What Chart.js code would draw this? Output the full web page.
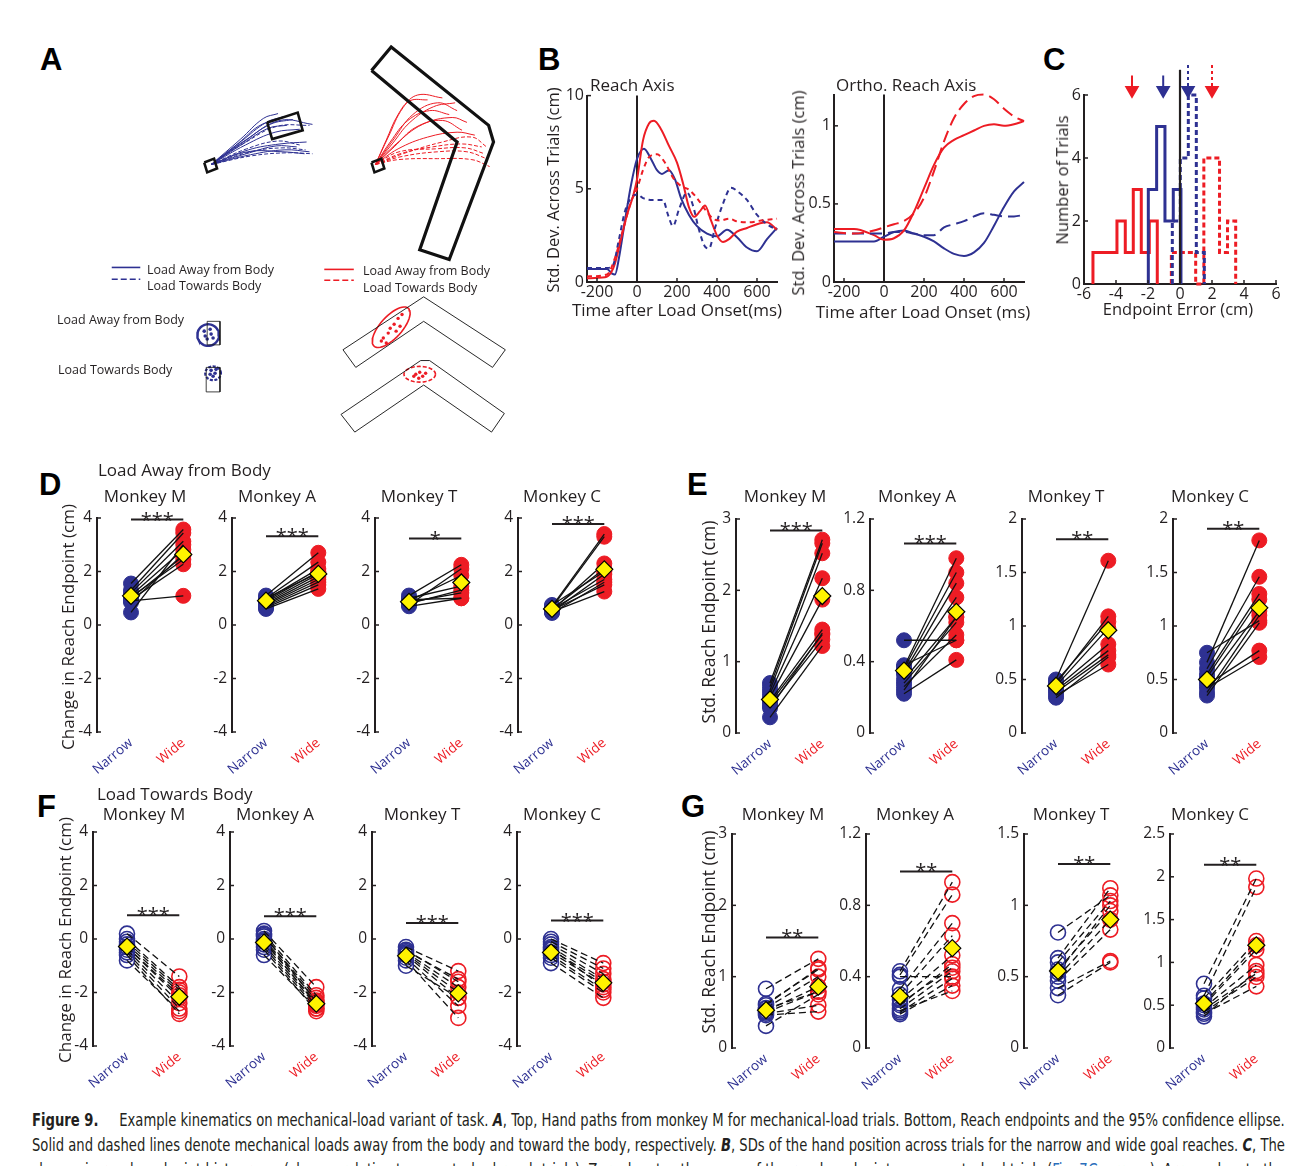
<!DOCTYPE html>
<html>
<head>
<meta charset="utf-8">
<script src="https://cdn.jsdelivr.net/npm/chart.js@4.4.1/dist/chart.umd.min.js"></script>
<style>
  html, body { margin: 0; padding: 0; background: #fff; }
  body { width: 1309px; height: 1166px; overflow: hidden; position: relative;
         font-family: 'Open Sans', 'Noto Sans', sans-serif; color: #231f20; }
  canvas { position: absolute; }
  .t { position: absolute; white-space: nowrap; line-height: 1.2; }
  .letter { position: absolute; font-family: 'Liberation Sans', Arial, sans-serif; font-weight: bold;
            font-size: 31px; line-height: 1; color: #000; }
  .cap { position: absolute; left: 32px; white-space: nowrap; font-size: 18px; line-height: 24px;
         font-family: 'Liberation Sans Narrow', 'DejaVu Sans Condensed', sans-serif; font-stretch: condensed;
         transform-origin: 0 0; color: #231f20; }
  .cap a { color: #2a6ebb; text-decoration: none; }
</style>
</head>
<body>

<div class="letter" style="left:40px;top:44px">A</div>
<div class="letter" style="left:538px;top:44px">B</div>
<div class="letter" style="left:1043px;top:44px">C</div>
<div class="letter" style="left:39px;top:469px">D</div>
<div class="letter" style="left:687px;top:469px">E</div>
<div class="letter" style="left:37px;top:791px">F</div>
<div class="letter" style="left:681px;top:791px">G</div>

<div class="cap" style="top:1108px"><b>Figure 9.</b>&nbsp;&nbsp;&nbsp;&nbsp; Example kinematics on mechanical-load variant of task. <b><i>A</i></b>, Top, Hand paths from monkey M for mechanical-load trials. Bottom, Reach endpoints and the 95% confidence ellipse.</div>
<div class="cap" style="top:1133px">Solid and dashed lines denote mechanical loads away from the body and toward the body, respectively. <b><i>B</i></b>, SDs of the hand position across trials for the narrow and wide goal reaches. <b><i>C</i></b>, The</div>
<div class="cap" style="top:1158px">change in reach endpoint histograms (change relative to unperturbed reach trials). Zero denotes the mean of the reach endpoints on unperturbed trials (<a>Fig. 7<i>C</i></a>, arrows). Arrows denote the</div>

<script>
// ---------------- data ----------------

// panel B, reach axis (ms, cm)
const reachBlueSolidT = [-250,-150,-125,-110,-90,-60,-30,0,35,70,100,125,160,190,220,260,300,350,400,450,500,550,600,650,700];
const reachBlueSolidV = [0.7,0.7,0.45,0.4,1.3,3.3,5.2,6.6,7.15,6.6,6.0,5.8,6.0,5.5,4.5,3.6,3.0,2.6,2.45,2.8,2.4,1.85,1.65,2.3,2.9];
const reachRedSolidT = [-250,-160,-130,-110,-80,-50,-20,0,30,60,85,120,160,200,230,260,285,315,340,370,400,430,460,500,550,600,650,700];
const reachRedSolidV = [0.2,0.25,0.5,1.0,2.3,3.6,4.6,5.5,7.6,8.5,8.65,8.2,7.3,6.4,5.3,4.0,3.5,3.8,4.1,3.3,2.5,2.15,2.3,2.7,2.9,3.1,3.2,2.8];
const reachBlueDashT = [-250,-150,-120,-90,-60,-30,0,30,80,130,155,180,210,250,280,310,340,360,390,430,470,510,550,600,650,700];
const reachBlueDashV = [0.75,0.75,0.9,2.3,3.8,4.5,4.7,4.5,4.4,4.4,3.6,3.0,3.9,4.8,4.1,2.8,1.9,1.8,2.9,4.2,5.05,4.8,4.4,3.6,3.1,2.8];
const reachRedDashT = [-250,-150,-110,-70,-30,0,30,60,100,140,180,220,260,300,340,380,420,460,500,560,620,700];
const reachRedDashV = [0.3,0.4,1.3,2.8,4.3,5.0,6.0,6.7,6.85,6.4,5.6,5.15,4.95,4.5,3.9,3.4,3.3,3.4,3.25,3.2,3.3,3.4];

// panel B, ortho reach axis
const orthoT = [-250,-150,-50,0,50,100,150,200,250,300,350,400,450,500,550,600,650,700];
const orthoRedSolid = [0.34,0.34,0.3,0.27,0.28,0.33,0.45,0.6,0.75,0.86,0.91,0.94,0.97,1.0,1.01,1.0,1.01,1.03];
const orthoRedDash  = [0.32,0.31,0.33,0.35,0.37,0.39,0.44,0.54,0.71,0.9,1.05,1.14,1.19,1.2,1.17,1.11,1.06,1.03];
const orthoBlueSolid = [0.26,0.26,0.26,0.29,0.32,0.33,0.31,0.29,0.26,0.215,0.18,0.167,0.19,0.25,0.36,0.48,0.58,0.64];
const orthoBlueDash  = [0.31,0.31,0.31,0.31,0.32,0.32,0.31,0.3,0.3,0.35,0.37,0.39,0.42,0.44,0.43,0.42,0.42,0.43];
const bTimeTicks = [-200, 0, 200, 400, 600];
const reachTicks = [0, 5, 10];
const orthoTicks = [0, 0.5, 1];

// panel C, endpoint error histograms (bin edges in cm, counts)
const histRedSolidEdges = [-5.44,-4.94,-4.44,-3.94,-3.42,-2.92,-2.42,-1.92,-1.42];
const histRedSolidCounts = [1,1,1,2,1,3,1,2];
const histBlueSolidEdges = [-1.98,-1.46,-0.94,-0.42,0.06];
const histBlueSolidCounts = [3,5,2,3];
const histBlueDashEdges = [-0.48,0.02,0.52,1.02,1.52];
const histBlueDashCounts = [2,4,6,1];
const histRedDashEdges = [-0.54,-0.04,0.47,0.98,1.49,2.0,2.47,2.97,3.48];
const histRedDashCounts = [1,1,1,0,4,4,1,2];
const arrowX = [-3, -1.05, 0.5, 2];
const cErrTicks = [-6,-4,-2,0,2,4,6];
const cCountTicks = [0,2,4,6];

// panels D-G
const goalLabels = ['Narrow', 'Wide'];
const monkeys = ['Monkey M', 'Monkey A', 'Monkey T', 'Monkey C'];

// D: load away, change in reach endpoint (cm)
const dM_narrow = [1.55,1.3,1.2,1.1,1.0,1.05,0.95,0.85,0.9,0.47];
const dM_wide   = [3.57,3.44,3.13,2.82,2.58,2.45,2.27,2.65,1.09,3.0];
const dA_narrow = [1.1,1.0,0.95,0.9,0.85,0.8,0.75,0.7,0.65,0.6,1.0];
const dA_wide   = [2.7,2.35,2.1,2.0,1.9,1.8,1.7,1.6,1.5,1.35,1.95];
const dT_narrow = [1.1,0.75,0.9,1.0,0.8,0.95,0.7,0.85];
const dT_wide   = [2.25,2.1,1.85,1.45,1.3,1.0,1.0,1.2];
const dC_narrow = [0.7,0.65,0.55,0.6,0.5,0.6,0.45,0.55,0.5,0.75];
const dC_wide   = [3.4,3.3,2.3,2.1,1.9,1.7,1.6,1.5,1.25,2.0];
const dMeans = [[1.09,2.64],[0.91,1.91],[0.87,1.59],[0.6,2.08]];
const dStars = ['***','***','*','***'];
const dSigY = [3.94,3.32,3.23,3.78];
const dTicks = [-4,-2,0,2,4];

// E: load away, std of reach endpoint (cm)
const eM_narrow = [0.7,0.65,0.6,0.55,0.5,0.45,0.42,0.38,0.35,0.22];
const eM_wide   = [2.71,2.66,2.52,2.17,1.87,1.45,1.38,1.31,1.4,1.22];
const eA_narrow = [0.52,0.37,0.36,0.34,0.33,0.3,0.28,0.26,0.24,0.22,0.38];
const eA_wide   = [0.52,0.98,0.9,0.84,0.76,0.65,0.62,0.55,0.65,0.41,0.52];
const eT_narrow = [0.5,0.46,0.48,0.44,0.42,0.4,0.38,0.35,0.33];
const eT_wide   = [1.61,1.09,1.04,0.98,0.83,0.77,0.73,0.64,0.71];
const eC_narrow = [0.75,0.66,0.6,0.55,0.52,0.48,0.45,0.42,0.38,0.35];
const eC_wide   = [1.05,1.8,1.46,1.3,1.25,1.14,0.77,0.71,1.1,1.03];
const eMeans = [[0.47,1.92],[0.35,0.68],[0.44,0.96],[0.5,1.17]];
const eStars = ['***','***','**','**'];
const eSigY = [2.84,1.063,1.81,1.91];
const eTicks = [[0,1,2,3],[0,0.4,0.8,1.2],[0,0.5,1,1.5,2],[0,0.5,1,1.5,2]];

// F: load towards, change in reach endpoint (cm)
const fM_narrow = [0.2,0.0,-0.1,-0.2,-0.3,-0.4,-0.5,-0.6,-0.8,-0.3];
const fM_wide   = [-1.4,-1.8,-1.9,-2.0,-2.2,-2.4,-2.6,-2.8,-2.7,-2.1];
const fA_narrow = [0.3,0.2,0.1,0.0,-0.1,-0.2,-0.3,-0.4,-0.6,-0.05,0.15];
const fA_wide   = [-1.8,-2.1,-2.2,-2.3,-2.4,-2.5,-2.6,-2.7,-2.6,-2.45,-2.35];
const fT_narrow = [-0.3,-0.4,-0.5,-0.55,-0.6,-0.7,-0.8,-1.0,-0.45];
const fT_wide   = [-1.2,-1.6,-1.8,-2.0,-2.2,-2.5,-2.95,-2.2,-1.5];
const fC_narrow = [0.0,-0.1,-0.2,-0.3,-0.4,-0.5,-0.6,-0.7,-0.9,-0.35];
const fC_wide   = [-0.9,-1.1,-1.3,-1.5,-1.6,-1.7,-1.9,-2.0,-2.2,-1.8];
const fMeans = [[-0.28,-2.16],[-0.13,-2.42],[-0.63,-2.03],[-0.5,-1.64]];
const fStars = ['***','***','***','***'];
const fSigY = [0.89,0.85,0.6,0.69];
const fTicks = [-4,-2,0,2,4];

// G: load towards, std of reach endpoint (cm)
const gM_narrow = [0.83,0.6,0.56,0.52,0.5,0.48,0.46,0.31,0.55,0.62];
const gM_wide   = [1.25,1.12,1.0,0.86,0.79,0.6,0.51,0.75,0.79,1.1];
const gA_narrow = [0.43,0.41,0.4,0.33,0.3,0.27,0.24,0.22,0.2,0.19,0.21,0.25];
const gA_wide   = [0.93,0.86,0.4,0.7,0.63,0.52,0.47,0.43,0.39,0.35,0.32,0.45];
const gT_narrow = [0.81,0.63,0.6,0.55,0.5,0.47,0.42,0.37,0.53];
const gT_wide   = [1.07,1.12,1.03,0.96,0.9,0.83,0.61,0.6,1.0];
const gC_narrow = [0.75,0.61,0.58,0.52,0.5,0.47,0.45,0.42,0.4,0.37];
const gC_wide   = [1.98,1.88,1.25,1.2,1.15,0.97,0.87,0.83,0.72,0.9];
const gMeans = [[0.53,0.86],[0.29,0.56],[0.54,0.9],[0.52,1.2]];
const gStars = ['**','**','**','**'];
const gSigY = [1.55,0.99,1.29,2.14];
const gTicks = [[0,1,2,3],[0,0.4,0.8,1.2],[0,0.5,1,1.5],[0,0.5,1,1.5,2,2.5]];

// panel A, workspace drawing (workspace units, y downward)
const aRange = [30, 530, 40, 440];
const aBlueStartBox = [[203,161],[213,157],[216,167],[206,171],[203,161]];
const aBlueTargetBox = [[267,120],[298,110],[303,128],[272,137],[267,120]];
const aRedStartBox = [[373,161],[383,157],[386,167],[376,171],[373,161]];
const aBigChevron = [[373,67],[393,43],[492,123],[497,140],[452,260],[422,250],[460,140],[373,67]];
const aBluePaths = [
  [[210,163],[240,137],[263,116],[278,111]],
  [[210,163],[243,140],[270,122],[293,117]],
  [[210,163],[245,143],[275,130],[300,127]],
  [[210,163],[248,148],[280,142],[307,140]],
  [[210,163],[250,153],[285,148],[310,150]],
  [[210,163],[242,142],[268,126],[287,123]],
  [[210,163],[245,138],[280,118],[313,122]],
  [[210,163],[238,141],[258,124],[276,117]],
  [[210,163],[247,150],[283,150],[305,152]],
  [[210,163],[241,139],[266,120],[284,114]],
  [[210,163],[249,151],[276,144],[297,145]]
];
const aBlueDashPaths = [
  [[210,163],[250,150],[282,146],[306,148]],
  [[210,163],[246,147],[278,139],[300,143]],
  [[210,163],[252,154],[288,151],[313,152]],
  [[210,163],[244,141],[277,124],[310,123]]
];
const aRedPaths = [
  [[377,163],[390,135],[405,105],[420,92],[445,95]],
  [[377,163],[395,138],[415,112],[440,100],[460,108]],
  [[377,163],[398,142],[425,122],[455,115],[470,120]],
  [[377,163],[400,147],[430,135],[460,130],[478,133]],
  [[377,163],[396,145],[418,125],[445,118],[465,128]],
  [[377,163],[392,140],[410,118],[432,108],[452,112]],
  [[377,163],[388,138],[400,112],[412,98],[430,97]],
  [[377,163],[394,142],[412,120],[436,104],[458,100]]
];
const aRedDashPaths = [
  [[377,163],[402,152],[435,145],[465,142],[485,145]],
  [[377,163],[403,155],[440,150],[470,150],[490,157]],
  [[377,163],[400,158],[440,157],[475,158],[493,165]],
  [[377,163],[405,152],[445,140],[475,135],[490,145]],
  [[377,163],[401,150],[438,147],[468,146],[488,152]]
];
const aBlueRect1 = [[206,323],[219,323],[219,347],[206,347],[206,323]];
const aBlueRect2 = [[205,370],[219,370],[219,395],[205,395],[205,370]];
const aChevron1 = [[344,352],[426,298],[509,352],[496,370],[426,323],[357,370],[344,352]];
const aChevron2 = [[342,418],[423,363],[432,363],[508,417],[495,436],[426,388],[356,436],[342,418]];
const aBlueDots1 = [[203,333],[210,336],[206,341],[212,340],[204,338],[209,331]];
const aBlueDots2 = [[210,373],[214,376],[212,379],[209,377],[215,372]];
const aRedDots1 = [[385,340],[390,335],[396,326],[400,320],[404,316],[392,330],[398,333],[388,345],[383,343],[402,328]];
const aRedDots2 = [[418,377],[422,375],[425,379],[421,381],[428,376],[416,379]];
// ellipses: centre x, centre y, semi-axis a, semi-axis b, tilt (deg)
const aBlueEllipse1 = [207,337,11,11,0];
const aBlueEllipse2 = [212,376,8,7,0];
const aRedEllipse1 = [393,329,26,11,48];
const aRedEllipse2 = [422,377,16,8,0];
const aLegendBlueSolid = [[109,268],[138,268]];
const aLegendBlueDash = [[109,280],[138,280]];
const aLegendRedSolid = [[325,270],[355,270]];
const aLegendRedDash = [[325,281],[355,281]];

// ---------------- helpers ----------------
const BLUE = '#2e3192', RED = '#ed1c24', INK = '#231f20', YEL = '#fff200';
Chart.defaults.font.family = "'Open Sans','Noto Sans',sans-serif";
Chart.defaults.color = INK;
Chart.defaults.animation = false;
Chart.defaults.plugins.legend.display = false;
Chart.defaults.plugins.tooltip.enabled = false;

function addCanvas(left, top, w, h) {
  const c = document.createElement('canvas');
  c.width = w; c.height = h;
  c.style.left = left + 'px'; c.style.top = top + 'px';
  c.style.width = w + 'px'; c.style.height = h + 'px';
  document.body.appendChild(c);
  return c;
}

function label(str, x, y, o) {
  o = o || {};
  const d = document.createElement('div');
  d.className = 't';
  d.innerHTML = str;
  d.style.left = x + 'px'; d.style.top = y + 'px';
  d.style.fontSize = (o.size || 17) + 'px';
  if (o.color) d.style.color = o.color;
  const ax = o.left ? '0' : '-50%';
  d.style.transform = 'translate(' + ax + ',-50%)' + (o.rot ? ' rotate(-90deg)' : '');
  document.body.appendChild(d);
}

const pts = (xs, ys) => xs.map((x, i) => ({x: x, y: ys[i]}));
const xy = arr => arr.map(p => ({x: p[0], y: p[1]}));

// MATLAB-style ticks pointing into the axes
const inTicks = {
  id: 'inTicks',
  afterDraw(chart, args, opts) {
    const ctx = chart.ctx, a = chart.chartArea;
    ctx.save();
    ctx.strokeStyle = INK; ctx.lineWidth = 1.5;
    if (opts.y) chart.scales.y.ticks.forEach(t => {
      const p = chart.scales.y.getPixelForValue(t.value);
      ctx.beginPath(); ctx.moveTo(a.left, p); ctx.lineTo(a.left + 4, p); ctx.stroke();
    });
    if (opts.x) chart.scales.x.ticks.forEach(t => {
      const p = chart.scales.x.getPixelForValue(t.value);
      ctx.beginPath(); ctx.moveTo(p, a.bottom); ctx.lineTo(p, a.bottom - 4); ctx.stroke();
    });
    ctx.restore();
  }
};

// significance stars above the bar
const sigText = {
  id: 'sigText',
  afterDatasetsDraw(chart, args, opts) {
    if (!opts.text) return;
    const ctx = chart.ctx;
    const x = chart.scales.x.getPixelForValue(1.5);
    const y = chart.scales.y.getPixelForValue(opts.y);
    ctx.save();
    ctx.font = "20px 'Open Sans','Noto Sans',sans-serif";
    ctx.fillStyle = INK; ctx.textAlign = 'center'; ctx.textBaseline = 'alphabetic';
    ctx.fillText(opts.text, x, y + 7);
    ctx.restore();
  }
};

// ---------------- paired narrow/wide panels ----------------
function paired(p) {
  const yW = 44, xH = 60, padT = 24, padR = 12, plotW = 102;
  const axisH = p.bottom - p.top;
  const c = addCanvas(p.axisX - yW, p.top - padT, yW + plotW + padR, padT + axisH + xH);
  const ds = [];
  ds.push({data: [{x: 1, y: p.mean[0]}, {x: 2, y: p.mean[1]}], pointStyle: 'rectRot', pointRadius: 8.5,
           backgroundColor: YEL, borderColor: '#000', borderWidth: 1.2, clip: false});
  p.narrow.forEach((n, i) => ds.push({data: [{x: 1, y: n}, {x: 2, y: p.wide[i]}], showLine: true,
           borderColor: '#111', borderWidth: 1.3, borderDash: p.open ? [7, 4] : [], pointRadius: 0, clip: false}));
  ds.push({data: [{x: 1, y: p.sig}, {x: 2, y: p.sig}], showLine: true, borderColor: INK, borderWidth: 2,
           pointRadius: 0, clip: false});
  ds.push({data: p.wide.map(v => ({x: 2, y: v})), pointRadius: 7.5,
           backgroundColor: p.open ? 'rgba(0,0,0,0)' : RED, borderColor: RED, borderWidth: p.open ? 1.6 : 1, clip: false});
  ds.push({data: p.narrow.map(v => ({x: 1, y: v})), pointRadius: 7.5,
           backgroundColor: p.open ? 'rgba(0,0,0,0)' : BLUE, borderColor: BLUE, borderWidth: p.open ? 1.6 : 1, clip: false});
  new Chart(c, {
    type: 'scatter',
    data: {datasets: ds},
    options: {
      responsive: false,
      layout: {padding: {top: padT, right: padR, left: 0, bottom: 0}},
      scales: {
        x: {type: 'linear', min: 0.35, max: 2.3,
            afterBuildTicks: s => { s.ticks = [{value: 1}, {value: 2}]; },
            afterFit: s => { s.height = xH; },
            border: {display: false}, grid: {display: false, drawTicks: false},
            ticks: {autoSkip: false, minRotation: 40, maxRotation: 40, padding: 3, font: {size: 13.5},
                    color: ctx => ctx.index === 0 ? BLUE : RED,
                    callback: (v, i) => goalLabels[i]}},
        y: {type: 'linear', min: p.ticks[0], max: p.ticks[p.ticks.length - 1],
            afterBuildTicks: s => { s.ticks = p.ticks.map(v => ({value: v})); },
            afterFit: s => { s.width = yW; },
            border: {color: INK, width: 2}, grid: {display: false, drawTicks: false},
            ticks: {padding: 5, font: {size: 15.5}, callback: v => String(v)}}
      },
      plugins: {inTicks: {y: true}, sigText: {y: p.sig, text: p.stars}}
    },
    plugins: [inTicks, sigText]
  });
}

const rows = [
  {top: 518, bottom: 732, axisX: [97, 232, 375, 518], titleX: [145, 277, 419, 562], titleY: 496, open: false,
   narrow: [dM_narrow, dA_narrow, dT_narrow, dC_narrow], wide: [dM_wide, dA_wide, dT_wide, dC_wide],
   means: dMeans, stars: dStars, sig: dSigY, ticks: [dTicks, dTicks, dTicks, dTicks]},
  {top: 519, bottom: 733, axisX: [736, 870, 1022, 1173], titleX: [785, 917, 1066, 1210], titleY: 496, open: false,
   narrow: [eM_narrow, eA_narrow, eT_narrow, eC_narrow], wide: [eM_wide, eA_wide, eT_wide, eC_wide],
   means: eMeans, stars: eStars, sig: eSigY, ticks: eTicks},
  {top: 832, bottom: 1046, axisX: [93, 230, 372, 517], titleX: [144, 275, 422, 562], titleY: 814, open: true,
   narrow: [fM_narrow, fA_narrow, fT_narrow, fC_narrow], wide: [fM_wide, fA_wide, fT_wide, fC_wide],
   means: fMeans, stars: fStars, sig: fSigY, ticks: [fTicks, fTicks, fTicks, fTicks]},
  {top: 834, bottom: 1048, axisX: [732, 866, 1024, 1170], titleX: [783, 915, 1071, 1210], titleY: 814, open: true,
   narrow: [gM_narrow, gA_narrow, gT_narrow, gC_narrow], wide: [gM_wide, gA_wide, gT_wide, gC_wide],
   means: gMeans, stars: gStars, sig: gSigY, ticks: gTicks}
];

rows.forEach(r => {
  for (let k = 0; k < 4; k++) {
    paired({top: r.top, bottom: r.bottom, axisX: r.axisX[k], open: r.open,
            narrow: r.narrow[k], wide: r.wide[k], mean: r.means[k],
            stars: r.stars[k], sig: r.sig[k], ticks: r.ticks[k]});
    label(monkeys[k], r.titleX[k], r.titleY);
  }
});

label('Load Away from Body', 98, 470, {left: true});
label('Load Towards Body', 97, 794, {left: true});
label('Change in Reach Endpoint (cm)', 68, 627, {rot: true});
label('Std. Reach Endpoint (cm)', 708, 622, {rot: true, size: 17.5});
label('Change in Reach Endpoint (cm)', 65, 940, {rot: true});
label('Std. Reach Endpoint (cm)', 708, 932, {rot: true, size: 17.5});

// ---------------- B and C (framed axes) ----------------
function framed(p) {
  const axisH = p.bottom - p.top, plotW = p.right - p.axisX;
  const c = addCanvas(p.axisX - p.yW, p.top - p.padT, p.yW + plotW + p.padR, p.padT + axisH + p.xH);
  new Chart(c, {
    type: 'scatter',
    data: {datasets: p.datasets},
    options: {
      responsive: false,
      layout: {padding: {top: p.padT, right: p.padR, left: 0, bottom: 0}},
      scales: {
        x: {type: 'linear', min: p.xMin, max: p.xMax,
            afterBuildTicks: s => { s.ticks = p.xTicks.map(v => ({value: v})); },
            afterFit: s => { s.height = p.xH; },
            border: {color: INK, width: 2}, grid: {display: false, drawTicks: false},
            ticks: {autoSkip: false, maxRotation: 0, padding: 1, font: {size: 16}, callback: v => String(v)}},
        y: {type: 'linear', min: p.yMin, max: p.yMax,
            afterBuildTicks: s => { s.ticks = p.yTicks.map(v => ({value: v})); },
            afterFit: s => { s.width = p.yW; },
            border: {color: INK, width: 2}, grid: {display: false, drawTicks: false},
            ticks: {padding: 3, font: {size: 16}, callback: v => String(v)}}
      },
      plugins: {inTicks: {x: true, y: true}}
    },
    plugins: [inTicks]
  });
}

function curve(t, v, color, dash) {
  return {data: pts(t, v), showLine: true, borderColor: color, borderWidth: 2, borderDash: dash || [],
          pointRadius: 0, cubicInterpolationMode: 'monotone', clip: false};
}
function vline(x, y0, y1, w) {
  return {data: [{x: x, y: y0}, {x: x, y: y1}], showLine: true, borderColor: INK, borderWidth: w || 2,
          pointRadius: 0, clip: false};
}

framed({axisX: 587, right: 777, top: 93, bottom: 282, yW: 36, padT: 10, padR: 14, xH: 26,
        xMin: -250, xMax: 700, xTicks: bTimeTicks, yMin: 0, yMax: 10, yTicks: reachTicks,
        datasets: [
          curve(reachRedDashT, reachRedDashV, RED, [5, 4]),
          curve(reachBlueDashT, reachBlueDashV, BLUE, [5, 4]),
          curve(reachRedSolidT, reachRedSolidV, RED),
          curve(reachBlueSolidT, reachBlueSolidV, BLUE),
          vline(0, 0, 10)
        ]});
framed({axisX: 834, right: 1024, top: 92, bottom: 282, yW: 36, padT: 10, padR: 14, xH: 26,
        xMin: -250, xMax: 700, xTicks: bTimeTicks, yMin: 0, yMax: 1.2, yTicks: orthoTicks,
        datasets: [
          curve(orthoT, orthoRedDash, RED, [12, 6]),
          curve(orthoT, orthoBlueDash, BLUE, [12, 6]),
          curve(orthoT, orthoRedSolid, RED),
          curve(orthoT, orthoBlueSolid, BLUE),
          vline(0, 0, 1.2)
        ]});

label('Reach Axis', 590, 85, {left: true});
label('Ortho. Reach Axis', 836, 85, {left: true});
label('Std. Dev. Across Trials (cm)', 553, 190, {rot: true, size: 16.5});
label('Std. Dev. Across Trials (cm)', 798, 193, {rot: true, size: 16.5});
label('Time after Load Onset(ms)', 677, 310);
label('Time after Load Onset (ms)', 923, 312);

function hist(edges, counts, color, dash) {
  const d = [{x: edges[0], y: 0}];
  counts.forEach((c, i) => d.push({x: edges[i], y: c}));
  d.push({x: edges[edges.length - 1], y: 0});
  return {data: d, showLine: true, stepped: true, borderColor: color, borderWidth: 3,
          borderDash: dash ? [5, 3] : [], pointRadius: 0, clip: false};
}
function arrow(x, color, dashed) {
  return {data: [{x: x, y: dashed ? 6.95 : 6.62}, {x: x, y: 6.15}], showLine: true, borderColor: color,
          borderWidth: 2, borderDash: dashed ? [3, 3] : [], pointRadius: [0, 6.5], pointStyle: 'triangle',
          rotation: 180, backgroundColor: color, pointBorderColor: color, clip: false};
}

framed({axisX: 1084, right: 1276, top: 95, bottom: 284, yW: 26, padT: 30, padR: 14, xH: 26,
        xMin: -6, xMax: 6, xTicks: cErrTicks, yMin: 0, yMax: 6, yTicks: cCountTicks,
        datasets: [
          arrow(arrowX[0], RED, false),
          arrow(arrowX[1], BLUE, false),
          arrow(arrowX[2], BLUE, true),
          arrow(arrowX[3], RED, true),
          vline(0, 0, 6.8, 2.2),
          hist(histBlueDashEdges, histBlueDashCounts, BLUE, true),
          hist(histBlueSolidEdges, histBlueSolidCounts, BLUE, false),
          hist(histRedDashEdges, histRedDashCounts, RED, true),
          hist(histRedSolidEdges, histRedSolidCounts, RED, false)
        ]});
label('Number of Trials', 1062, 180, {rot: true, size: 16.5});
label('Endpoint Error (cm)', 1178, 309, {size: 16.5});

// ---------------- A: workspace drawing ----------------
function ellipse(e) {
  const out = [], th = e[4] * Math.PI / 180;
  for (let k = 0; k <= 48; k++) {
    const t = k / 48 * 2 * Math.PI;
    const ex = e[2] * Math.cos(t), ey = e[3] * Math.sin(t);
    out.push({x: e[0] + ex * Math.cos(th) - ey * Math.sin(th), y: e[1] - (ex * Math.sin(th) + ey * Math.cos(th))});
  }
  return out;
}
function path(arr, color, w, dash, smooth) {
  return {data: Array.isArray(arr[0]) ? xy(arr) : arr, showLine: true, borderColor: color, borderWidth: w,
          borderDash: dash || [], pointRadius: 0, tension: smooth ? 0.4 : 0, clip: false,
          borderJoinStyle: 'miter'};
}
function dots(arr, color, r) {
  return {data: xy(arr), pointRadius: r, backgroundColor: color, borderColor: color, borderWidth: 0};
}

const aSets = [];
aBluePaths.forEach(pp => aSets.push(path(pp, BLUE, 1, null, true)));
aBlueDashPaths.forEach(pp => aSets.push(path(pp, BLUE, 1, [4, 2], true)));
aRedPaths.forEach(pp => aSets.push(path(pp, RED, 1, null, true)));
aRedDashPaths.forEach(pp => aSets.push(path(pp, RED, 1, [4, 2], true)));
aSets.unshift(path(aBlueStartBox, '#111', 2.6), path(aBlueTargetBox, '#111', 2.6),
              path(aRedStartBox, '#111', 2.6), path(aBigChevron, '#111', 3.2));
aSets.push(path(aBlueRect1, '#111', 0.8), path(aBlueRect2, '#111', 0.8),
           path(aChevron1, '#111', 0.9), path(aChevron2, '#111', 0.9),
           path(ellipse(aBlueEllipse1), BLUE, 2.4), path(ellipse(aBlueEllipse2), BLUE, 2.2, [3, 1.5]),
           path(ellipse(aRedEllipse1), RED, 1.6), path(ellipse(aRedEllipse2), RED, 1.6, [4, 2]),
           dots(aBlueDots1, BLUE, 1.8), dots(aBlueDots2, BLUE, 1.8),
           dots(aRedDots1, RED, 1.7), dots(aRedDots2, RED, 1.7),
           path(aLegendBlueSolid, BLUE, 1.6), path(aLegendBlueDash, BLUE, 1.6, [6, 3]),
           path(aLegendRedSolid, RED, 1.6), path(aLegendRedDash, RED, 1.6, [6, 3]));

new Chart(addCanvas(aRange[0], aRange[2], aRange[1] - aRange[0], aRange[3] - aRange[2]), {
  type: 'scatter',
  data: {datasets: aSets},
  options: {
    responsive: false,
    layout: {padding: 0},
    scales: {
      x: {type: 'linear', display: false, min: aRange[0], max: aRange[1]},
      y: {type: 'linear', display: false, min: aRange[2], max: aRange[3], reverse: true}
    }
  }
});

label('Load Away from Body', 147, 269, {left: true, size: 12.5});
label('Load Towards Body', 147, 285, {left: true, size: 12.5});
label('Load Away from Body', 363, 270, {left: true, size: 12.5});
label('Load Towards Body', 363, 287, {left: true, size: 12.5});
label('Load Away from Body', 57, 319, {left: true, size: 12.5});
label('Load Towards Body', 58, 369, {left: true, size: 12.5});

// stretch each caption line to the full column width
function fitCaption() {
  document.querySelectorAll('.cap').forEach(el => {
    el.style.transform = 'none';
    const w = el.scrollWidth;
    el.style.transform = 'scaleX(' + (1253 / w) + ')';
  });
}
fitCaption();
window.addEventListener('load', fitCaption);
</script>
</body>
</html>
